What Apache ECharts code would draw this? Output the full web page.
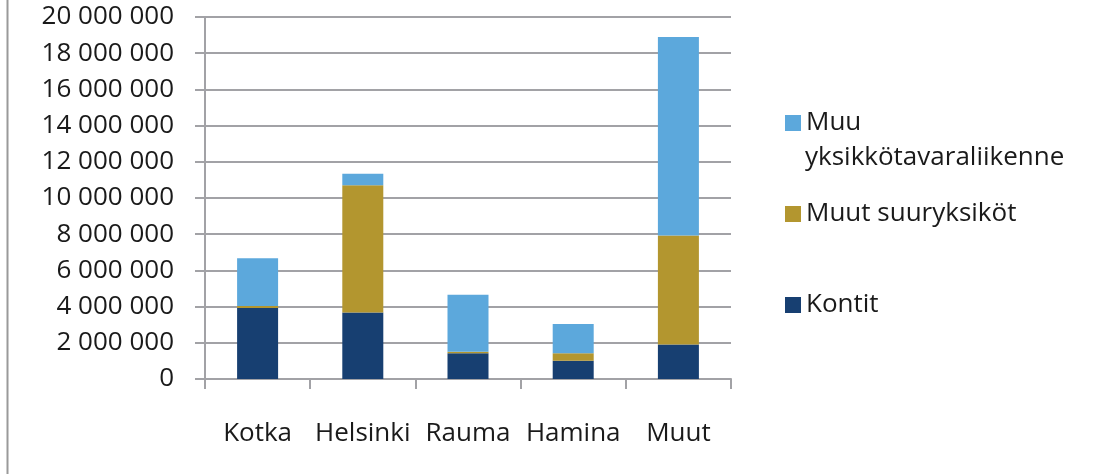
<!DOCTYPE html>
<html>
<head>
<meta charset="utf-8">
<script src="https://cdn.jsdelivr.net/npm/echarts@6/dist/echarts.min.js"></script>
<style>
  html, body { margin: 0; padding: 0; background: #fff; }
  #chart { width: 1096px; height: 474px; }
</style>
</head>
<body>
<div id="chart"></div>
<script>
// satamat
const categories = ['Kotka', 'Helsinki', 'Rauma', 'Hamina', 'Muut']

// arvot (kpl / t), luettu kuvasta
const kontit = [3920000, 3670000, 1420000, 1010000, 1900000]
const muutSuuryksikot = [110000, 7040000, 90000, 410000, 6030000]
const muuYksikko = [2640000, 630000, 3150000, 1620000, 10970000]

const seriesNames = ['Kontit', 'Muut suuryksiköt', 'Muu yksikkötavaraliikenne']
const colors = ['#173f71', '#b3962f', '#5ca8dc']

const yTicks = { min: 0, max: 20000000, interval: 2000000 }

const fontFamily = '"Open Sans", "Noto Sans", sans-serif'
const gridColor = '#a2a2a6'

const fmt = (v) => String(v).replace(/\B(?=(\d{3})+(?!\d))/g, ' ')

const chart = echarts.init(document.getElementById('chart'))

const makeSeries = (name, data) => ({
  name,
  type: 'bar',
  stack: 'total',
  barWidth: 41,
  data,
})

chart.setOption({
  animation: false,
  color: colors,
  textStyle: { fontFamily },
  grid: { left: 205, right: 365, top: 17, bottom: 95 },
  legend: {
    orient: 'vertical',
    left: 780,
    top: 105,
    itemWidth: 16,
    itemHeight: 16,
    itemGap: 65,
    icon: 'rect',
    data: [seriesNames[2], seriesNames[1], seriesNames[0]],
    formatter: (name) => (name === seriesNames[2] ? 'Muu' : name),
    textStyle: { fontSize: 26, color: '#1a1a1a', fontFamily },
  },
  graphic: [
    {
      type: 'line',
      shape: { x1: 7.5, y1: 0, x2: 7.5, y2: 474 },
      style: { stroke: '#9a9a9a', lineWidth: 2 },
    },
    {
      type: 'text',
      left: 805,
      top: 145,
      style: { text: 'yksikkötavaraliikenne', fontSize: 26, fill: '#1a1a1a', fontFamily },
    },
  ],
  xAxis: {
    type: 'category',
    data: categories,
    axisLine: { lineStyle: { color: gridColor, width: 2 } },
    axisTick: { show: true, length: 10, lineStyle: { color: gridColor, width: 2 } },
    axisLabel: { fontSize: 26, color: '#1a1a1a', margin: 42, interval: 0, fontFamily },
  },
  yAxis: {
    type: 'value',
    min: yTicks.min,
    max: yTicks.max,
    interval: yTicks.interval,
    axisLine: { show: true, lineStyle: { color: gridColor, width: 2 } },
    axisTick: { show: true, length: 10, lineStyle: { color: gridColor, width: 2 } },
    splitLine: { lineStyle: { color: gridColor, width: 2 } },
    axisLabel: { fontSize: 26, color: '#1a1a1a', margin: 31, fontFamily, formatter: fmt },
  },
  series: [
    makeSeries(seriesNames[0], kontit),
    makeSeries(seriesNames[1], muutSuuryksikot),
    makeSeries(seriesNames[2], muuYksikko),
  ],
})
</script>
</body>
</html>
